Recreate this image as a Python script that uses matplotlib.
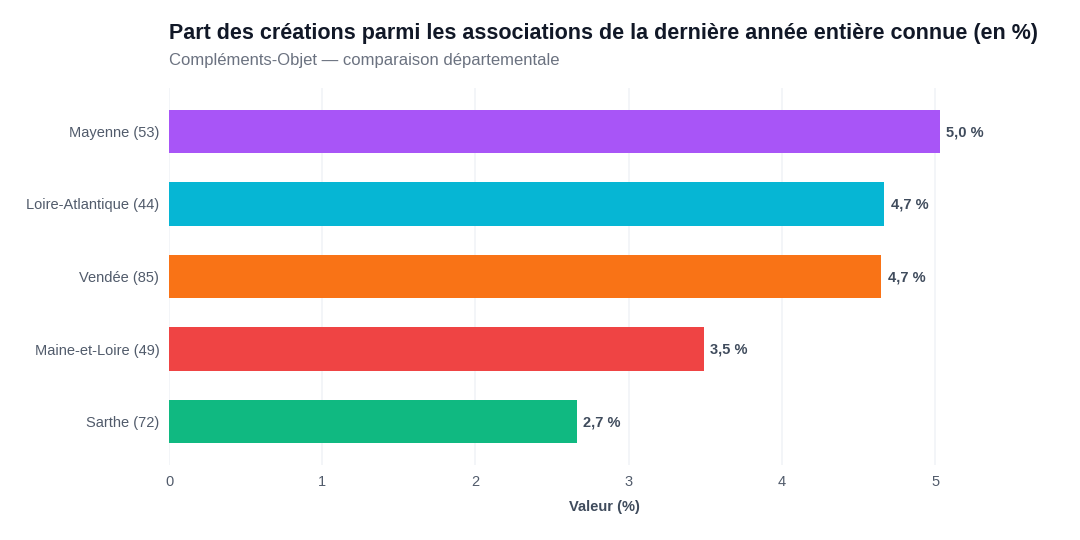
import matplotlib
matplotlib.use("Agg")
from matplotlib import pyplot as plt

departements = ["Mayenne (53)", "Loire-Atlantique (44)", "Vendée (85)",
                "Maine-et-Loire (49)", "Sarthe (72)"]
valeurs = [5.03, 4.67, 4.65, 3.49, 2.66]
couleurs = ["#a855f7", "#06b6d4", "#f97316", "#ef4444", "#10b981"]
x_ticks = [0, 1, 2, 3, 4, 5]

plt.rcParams['font.family'] = ['Liberation Sans', 'DejaVu Sans']

fig = plt.figure(figsize=(10.8, 5.4), dpi=100)
ax = fig.add_axes([169 / 1080, 1 - 465 / 540, 871 / 1080, 377 / 540])

y = list(range(len(departements)))
ax.barh(y, valeurs, height=0.6, color=couleurs, zorder=2)
ax.set_ylim(len(departements) - 0.4, -0.6)
ax.set_xlim(0, 5.685)

for yi, v in zip(y, valeurs):
    label = "{:.1f} %".format(v).replace(".", ",")
    ax.text(v + 0.04, yi + 0.01, label, va="center", ha="left", fontsize=10.5,
            fontweight="bold", color="#3f4b5c")

ax.set_yticks(y)
ax.set_yticklabels(departements)
ax.set_xticks(x_ticks)
ax.tick_params(axis="both", length=0, labelsize=10.5, colors="#515b6b")
ax.tick_params(axis="y", pad=7)
ax.tick_params(axis="x", pad=7)
ax.grid(axis="x", color="#f1f3f7", linewidth=1.2, zorder=0)
for s in ax.spines.values():
    s.set_visible(False)

ax.set_xlabel("Valeur (%)", fontsize=10.5, fontweight="bold", color="#3f4b5c", labelpad=8)

fig.text(169 / 1080, 1 - 33 / 540, "Part des créations parmi les associations de la dernière année entière connue (en %)",
         fontsize=15.5, fontweight="bold", color="#111827", va="center", ha="left")
fig.text(169 / 1080, 1 - 60 / 540, "Compléments-Objet — comparaison départementale",
         fontsize=12, color="#6b7280", va="center", ha="left")

fig.savefig("out.png", dpi=100, facecolor="white")
